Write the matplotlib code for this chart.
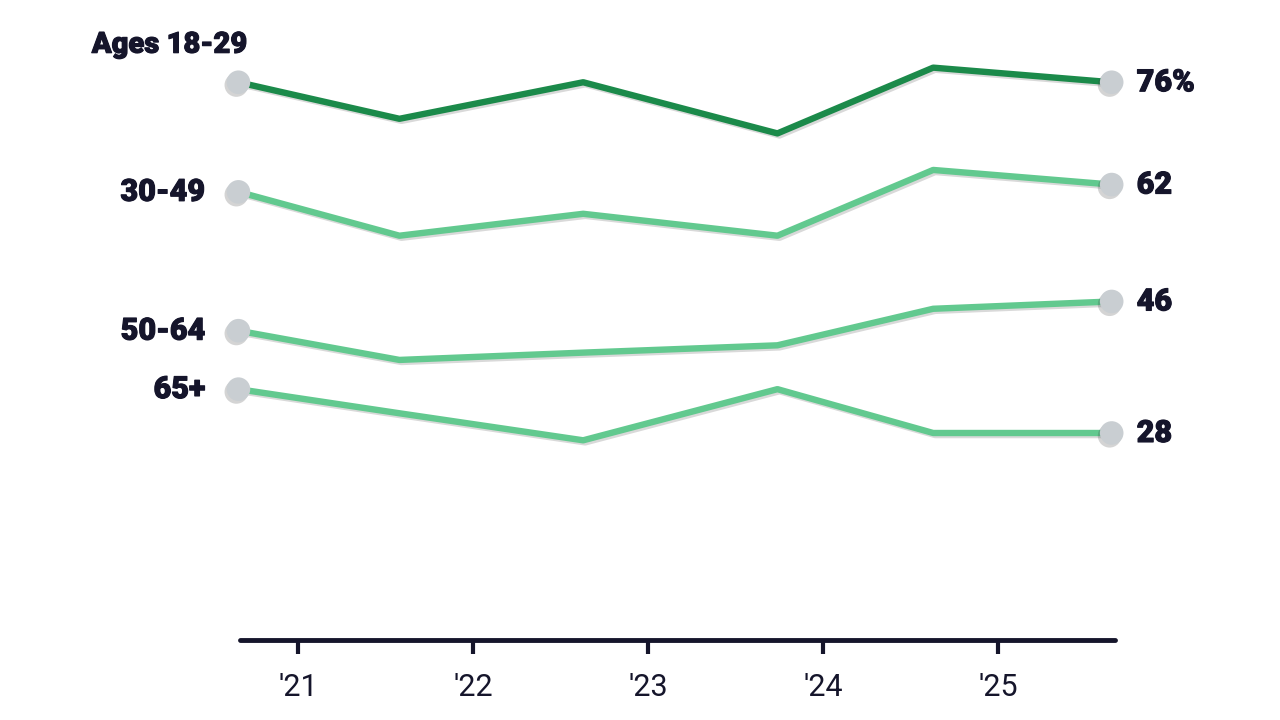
import matplotlib
matplotlib.use('Agg')
import matplotlib.pyplot as plt
import matplotlib.patheffects as pe

# Survey waves (decimal year) and share by age group
survey_year = [2020.66, 2021.58, 2022.63, 2023.74, 2024.63, 2025.65]
ages_18_29 = [76, 71, 76, 69, 78, 76]
ages_30_49 = [61, 55, 58, 55, 64, 62]
ages_50_64 = [42, 38, 39, 40, 45, 46]
ages_65_up = [34, 30.7, 27, 34, 28, 28]

groups = ['Ages 18-29', '30-49', '50-64', '65+']
series = [ages_18_29, ages_30_49, ages_50_64, ages_65_up]
end_labels = ['76%', '62', '46', '28']
year_ticks = [2021, 2022, 2023, 2024, 2025]
year_labels = ["'21", "'22", "'23", "'24", "'25"]

dark_green = '#1b8a4a'
light_green = '#62c98f'
line_colors = [dark_green, light_green, light_green, light_green]
text_color = '#15152b'
label_font = ['Roboto', 'DejaVu Sans']

fig = plt.figure(figsize=(12.8, 7.2), dpi=100)
ax = fig.add_axes([0.1875, 0.1111, 0.6836, 0.8122])

shadow = [pe.SimpleLineShadow(offset=(1.5, -1.5), alpha=0.15, shadow_color='black'), pe.Normal()]
label_fx = [pe.withStroke(linewidth=0.8, foreground=text_color)]

for vals, col in zip(series, line_colors):
    ax.plot(survey_year, vals, color=col, lw=4.6, solid_joinstyle='round',
            solid_capstyle='round', clip_on=False, path_effects=shadow, zorder=2)
    ends_x = [survey_year[0], survey_year[-1]]
    ends_y = [vals[0], vals[-1]]
    ax.plot(ends_x, ends_y, ls='none', marker='o', ms=17, mfc='#c9ced2', mec='none',
            clip_on=False, zorder=3,
            path_effects=[pe.SimplePatchShadow(offset=(-1.5, -2), alpha=0.22), pe.Normal()])

# left labels
ax.annotate(groups[0], (survey_year[0], ages_18_29[0]), xytext=(6, 27), textcoords='offset points',
            ha='right', va='center', fontsize=21, fontweight='black', color=text_color,
            family=label_font, annotation_clip=False, path_effects=label_fx)
for name, vals in zip(groups[1:], series[1:]):
    ax.annotate(name, (survey_year[0], vals[0]), xytext=(-24, 0), textcoords='offset points',
                ha='right', va='center', fontsize=22, fontweight='black', color=text_color,
                family=label_font, annotation_clip=False, path_effects=label_fx)

# right labels
for lab, vals in zip(end_labels, series):
    ax.annotate(lab, (survey_year[-1], vals[-1]), xytext=(18, 0), textcoords='offset points',
                ha='left', va='center', fontsize=22, fontweight='black', color=text_color,
                family=label_font, annotation_clip=False, path_effects=label_fx)

ax.set_xlim(2020.669, 2025.669)
ax.set_ylim(-0.33, 79.7)

for s in ['top', 'right', 'left']:
    ax.spines[s].set_visible(False)
ax.spines['bottom'].set_linewidth(3.5)
ax.spines['bottom'].set_color(text_color)
ax.spines['bottom'].set_capstyle('round')
ax.set_yticks([])
ax.set_xticks(year_ticks)
ax.set_xticklabels(year_labels, family=['Roboto', 'DejaVu Sans'],
                   fontsize=22, color=text_color)
ax.tick_params(axis='x', length=10, width=3, color=text_color, pad=14)

fig.savefig('out.png', dpi=100, facecolor='white')
